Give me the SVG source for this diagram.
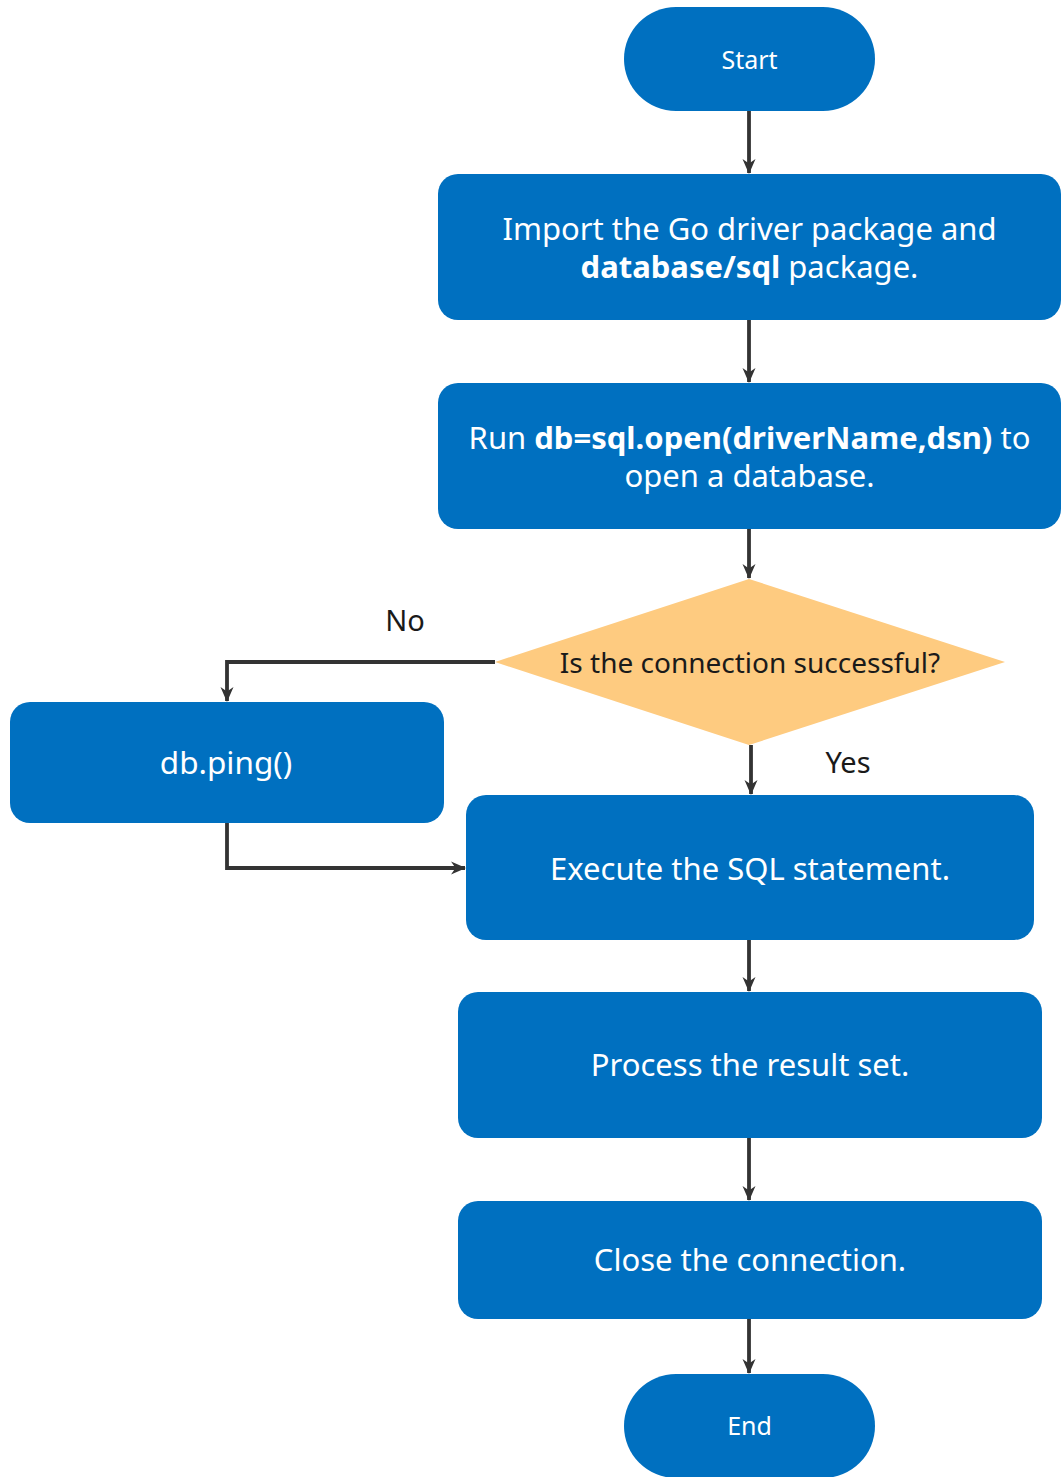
<svg xmlns="http://www.w3.org/2000/svg" width="1061" height="1477" viewBox="0 0 1061 1477">
  <defs>
    <marker id="arrow" markerWidth="16" markerHeight="16" refX="14" refY="8" orient="auto" markerUnits="userSpaceOnUse">
      <path d="M0,1.5 L15,8 L0,14.5 L4.5,8 Z" fill="#333333"/>
    </marker>
    <style>
      .box { fill: #0070C0; }
      .dec { fill: #FECB80; }
      .lbl { font-family: "Noto Sans", "Open Sans", sans-serif; fill: #FFFFFF; text-anchor: middle; }
      .dark { font-family: "Noto Sans", "Open Sans", sans-serif; fill: #1A1A1A; text-anchor: middle; }
      .b { font-weight: bold; }
      .link { fill: none; stroke: #333333; stroke-width: 3.8; marker-end: url(#arrow); }
    </style>
  </defs>
  <rect width="1061" height="1477" fill="#FFFFFF"/>

  <g id="start">
    <rect class="box" x="624" y="7" width="251" height="104" rx="52"/>
    <text class="lbl" x="749.5" y="69" font-size="25">Start</text>
  </g>

  <g id="import">
    <rect class="box" x="438" y="174" width="623" height="146" rx="20"/>
    <text class="lbl" x="749.5" y="240" font-size="31">Import the Go driver package and</text>
    <text class="lbl" x="749.5" y="278" font-size="31"><tspan class="b">database/sql</tspan> package.</text>
  </g>

  <g id="open">
    <rect class="box" x="438" y="383" width="623" height="146" rx="20"/>
    <text class="lbl" x="749.5" y="449" font-size="31">Run <tspan class="b">db=sql.open(driverName,dsn)</tspan> to</text>
    <text class="lbl" x="749.5" y="487" font-size="31">open a database.</text>
  </g>

  <g id="check">
    <polygon class="dec" points="749,579 1005,662 749,745 495,662"/>
    <text class="dark" x="750" y="673" font-size="28">Is the connection successful?</text>
  </g>

  <g id="ping">
    <rect class="box" x="10" y="702" width="434" height="121" rx="20"/>
    <text class="lbl" x="226" y="774" font-size="31.5">db.ping()</text>
  </g>

  <g id="execute">
    <rect class="box" x="466" y="795" width="568" height="145" rx="20"/>
    <text class="lbl" x="750" y="880" font-size="31">Execute the SQL statement.</text>
  </g>

  <g id="process">
    <rect class="box" x="458" y="992" width="584" height="146" rx="20"/>
    <text class="lbl" x="750" y="1076" font-size="31">Process the result set.</text>
  </g>

  <g id="close">
    <rect class="box" x="458" y="1201" width="584" height="118" rx="20"/>
    <text class="lbl" x="750" y="1271" font-size="31">Close the connection.</text>
  </g>

  <g id="end">
    <rect class="box" x="624" y="1374" width="251" height="104" rx="52"/>
    <text class="lbl" x="749.5" y="1435" font-size="25">End</text>
  </g>

  <g id="edge-labels">
    <text class="dark" x="405" y="631" font-size="29">No</text>
    <text class="dark" x="848" y="773" font-size="29">Yes</text>
  </g>

  <g id="connectors">
    <path class="link" d="M749,111 V173"/>
    <path class="link" d="M749,320 V382"/>
    <path class="link" d="M749,529 V578"/>
    <path class="link" d="M751,745 V794"/>
    <path class="link" d="M495,662 H227 V701"/>
    <path class="link" d="M227,823 V868 H465"/>
    <path class="link" d="M749,940 V991"/>
    <path class="link" d="M749,1138 V1200"/>
    <path class="link" d="M749,1319 V1373"/>
  </g>
</svg>
